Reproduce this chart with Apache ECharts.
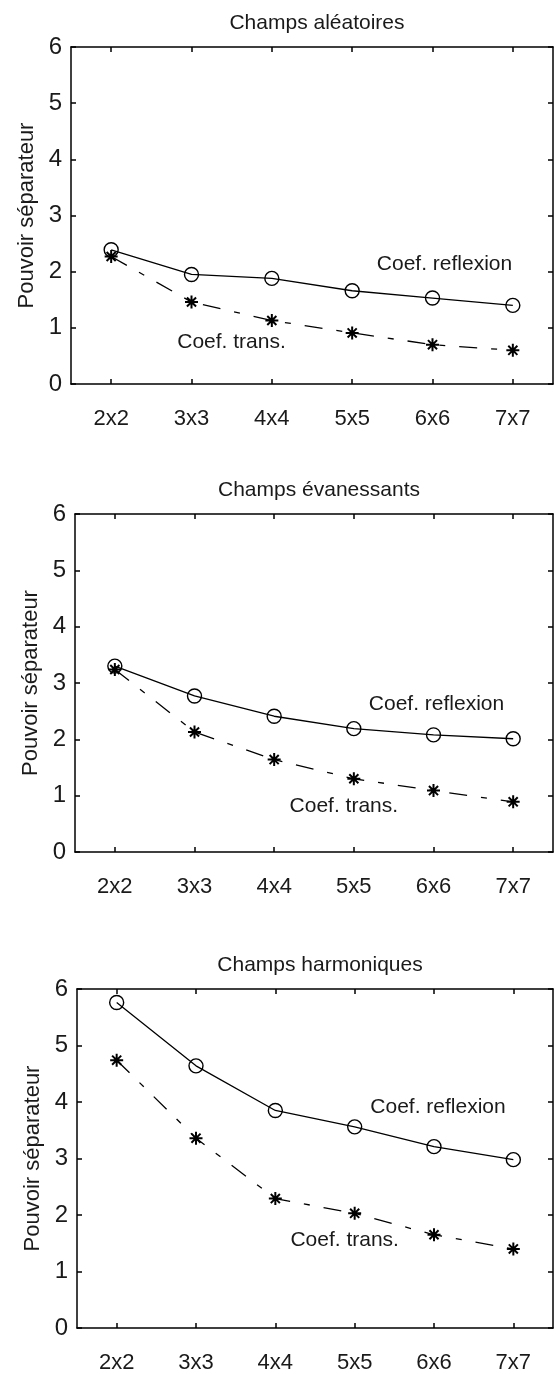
<!DOCTYPE html>
<html>
<head>
<meta charset="utf-8">
<script src="https://cdn.jsdelivr.net/npm/echarts@6/dist/echarts.min.js"></script>
<style>
  html, body { margin: 0; background: #fff; }
  #chart { width: 557px; height: 1374px; }
</style>
</head>
<body>
<div id="chart"></div>
<script>
// categories (taille de la fenêtre)
const sizes = ['2x2', '3x3', '4x4', '5x5', '6x6', '7x7']
const titles = ['Champs aléatoires', 'Champs évanessants', 'Champs harmoniques']
const yName = 'Pouvoir séparateur'
const yMin = 0, yMax = 6, yStep = 1

// valeurs
const reflAleatoires   = [2.39, 1.95, 1.88, 1.66, 1.53, 1.40]
const transAleatoires  = [2.27, 1.46, 1.13, 0.91, 0.70, 0.60]
const reflEvanescents  = [3.30, 2.77, 2.41, 2.19, 2.08, 2.01]
const transEvanescents = [3.24, 2.13, 1.64, 1.30, 1.09, 0.89]
const reflHarmoniques  = [5.76, 4.64, 3.85, 3.56, 3.21, 2.98]
const transHarmoniques = [4.74, 3.36, 2.29, 2.03, 1.65, 1.40]

const labelRefl  = 'Coef. reflexion'
const labelTrans = 'Coef. trans.'

const FONT = "'Liberation Sans', Arial, sans-serif"
const INK = '#000'
const TXT = '#1a1a1a'

// mise en page des trois cadres (px) + position des annotations
const panels = [
  { left: 71, top: 47,  height: 337, titleTop: 8,
    refl: reflAleatoires, trans: transAleatoires,
    noteRefl: { at: '6x6', y: 2.13, dx: 12 }, noteTrans: { at: '3x3', y: 0.75, dx: 40 } },
  { left: 75, top: 514, height: 338, titleTop: 475,
    refl: reflEvanescents, trans: transEvanescents,
    noteRefl: { at: '6x6', y: 2.62, dx: 3 },  noteTrans: { at: '5x5', y: 0.81, dx: -10 } },
  { left: 77, top: 989, height: 340, titleTop: 950,
    refl: reflHarmoniques, trans: transHarmoniques,
    noteRefl: { at: '6x6', y: 3.90, dx: 4 },  noteTrans: { at: '5x5', y: 1.55, dx: -10 } },
]
const RIGHT = 4  // 557 - 553

// astérisque façon MATLAB
const STAR = 'path://M10,0L10,20M0,10L20,10M3,3L17,17M3,17L17,3'

function note(n, text) {
  return {
    symbol: 'circle',
    symbolSize: 1,
    silent: true,
    itemStyle: { color: 'transparent' },
    label: {
      show: true, position: 'inside', offset: [n.dx, 0],
      formatter: text, color: TXT, fontFamily: FONT, fontSize: 21,
    },
    data: [{ coord: [n.at, n.y] }],
  }
}

const grid = [], xAxis = [], yAxis = [], series = [], title = []

panels.forEach((p, i) => {
  grid.push({ left: p.left, right: RIGHT, top: p.top, height: p.height })
  const plotCenter = p.left + (557 - RIGHT - p.left) / 2

  title.push({
    text: titles[i], left: plotCenter, top: p.titleTop, textAlign: 'center',
    textStyle: { fontFamily: FONT, fontSize: 21, fontWeight: 'normal', color: TXT },
  })

  const catAxis = (pos, showLabels) => ({
    type: 'category', gridIndex: i, position: pos, data: sizes,
    boundaryGap: true,
    axisLine: { show: true, onZero: false, lineStyle: { color: INK, width: 1.5 } },
    axisTick: { show: true, inside: true, length: 5, alignWithLabel: true, interval: 0,
      lineStyle: { color: INK, width: 1.5 } },
    axisLabel: { show: showLabels, interval: 0, margin: 24, color: TXT,
      fontFamily: FONT, fontSize: 22 },
    splitLine: { show: false },
  })
  xAxis.push(catAxis('bottom', true), catAxis('top', false))

  const valAxis = (pos, showLabels) => ({
    type: 'value', gridIndex: i, position: pos,
    min: yMin, max: yMax, interval: yStep,
    name: showLabels ? yName : '',
    nameLocation: 'middle', nameGap: 33,
    nameTextStyle: { fontFamily: FONT, fontSize: 22, color: TXT },
    axisLine: { show: true, onZero: false, lineStyle: { color: INK, width: 1.5 } },
    axisTick: { show: true, inside: true, length: 5, lineStyle: { color: INK, width: 1.5 } },
    axisLabel: { show: showLabels, margin: 9, color: TXT, fontFamily: FONT, fontSize: 24 },
    splitLine: { show: false },
  })
  yAxis.push(valAxis('left', true), valAxis('right', false))

  series.push({
    name: labelRefl, type: 'line', xAxisIndex: 2 * i, yAxisIndex: 2 * i,
    data: p.refl,
    symbol: 'circle', symbolSize: 14, showAllSymbol: true,
    lineStyle: { color: INK, width: 1.3 },
    itemStyle: { color: 'transparent', borderColor: INK, borderWidth: 1.4 },
    markPoint: note(p.noteRefl, labelRefl),
    animation: false,
  })
  series.push({
    name: labelTrans, type: 'line', xAxisIndex: 2 * i, yAxisIndex: 2 * i,
    data: p.trans,
    symbol: STAR, symbolSize: 13, showAllSymbol: true,
    lineStyle: { color: INK, width: 1.3, type: [18, 14, 6, 14] },
    itemStyle: { color: 'transparent', borderColor: INK, borderWidth: 2 },
    markPoint: note(p.noteTrans, labelTrans),
    animation: false,
  })
})

const chart = echarts.init(document.getElementById('chart'), null, { renderer: 'canvas' })
chart.setOption({
  backgroundColor: '#fff',
  animation: false,
  title, grid, xAxis, yAxis, series,
})
</script>
</body>
</html>
